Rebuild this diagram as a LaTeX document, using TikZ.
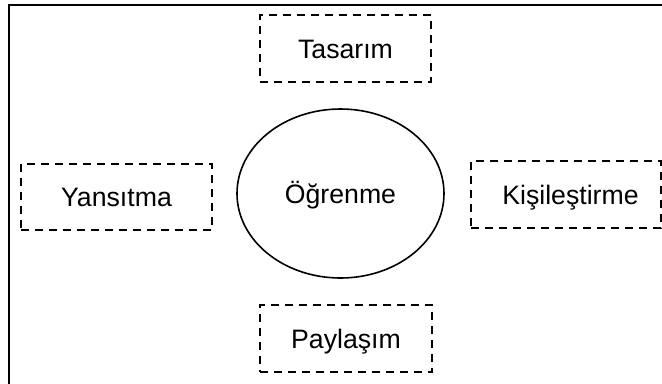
\documentclass[tikz,border=0pt]{standalone}
\usepackage{fontspec}
\setmainfont{Liberation Sans}
\usetikzlibrary{shapes.geometric}
\begin{document}
\begin{tikzpicture}[x=0.75pt, y=-0.75pt,
  every node/.style={font=\fontsize{20pt}{24pt}\selectfont, text height=14.3pt, text depth=0pt, inner sep=0pt},
  dashbox/.style={draw, line width=1.5pt, dash pattern=on 6pt off 4.5pt, minimum height=50.25pt},
  centre/.style={draw, ellipse, line width=1.2pt, minimum width=155.25pt, minimum height=126.75pt}]
  \useasboundingbox (0,0) rectangle (662,383);
  % outer frame (only its top and left sides fall inside the page)
  \draw[line width=1.5pt] (9,400) -- (9,5) -- (680,5);
  % central concept
  \node[centre] (ogrenme) at (340.5,193.5) {Öğrenme};
  % surrounding stages
  \node[dashbox, minimum width=128.25pt] (tasarim) at (345.5,48.5) {Tasarım};
  \node[dashbox, minimum width=143.25pt, minimum height=49.5pt] (yansitma) at (116.5,197) {Yansıtma};
  \node[dashbox, minimum width=142.5pt] (kisilestirme) at (566,194.5) {\hspace*{6.75pt}Kişileştirme};
  \node[dashbox, minimum width=129pt] (paylasim) at (346,338.5) {Paylaşım};
\end{tikzpicture}
\end{document}
